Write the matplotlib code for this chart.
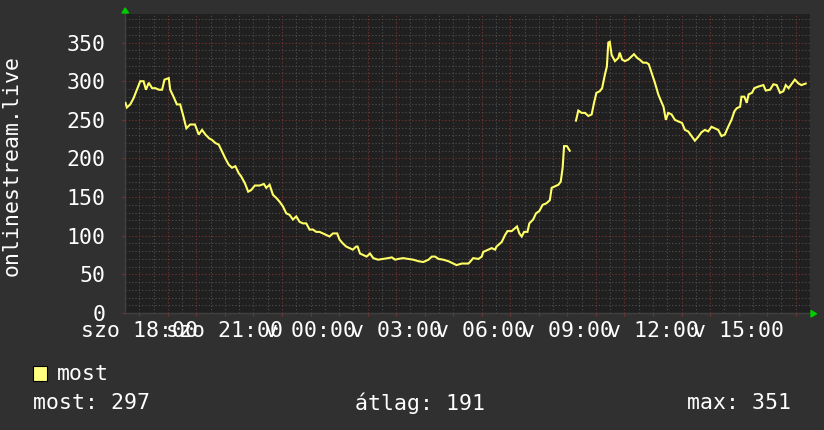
import numpy as np
import matplotlib
matplotlib.use("Agg")
import matplotlib.pyplot as plt
from matplotlib.patches import Polygon, Rectangle
from matplotlib.ticker import MultipleLocator, FixedLocator

# --- data: minutes since szo 17:30, value of "most" ---
minutes = [1, 4, 11, 18, 25, 32, 39, 44, 50, 57, 64, 71, 78, 83, 92, 95, 102, 109, 116,
           123, 129, 137, 147, 155, 162, 169, 177, 183, 190, 197, 204, 211, 218, 225,
           232, 239, 244, 252, 259, 265, 273, 283, 292, 297, 304, 311, 318, 325, 332,
           339, 346, 353, 360, 367, 374, 381, 388, 395, 402, 409, 416, 423, 430, 437,
           446, 451, 458, 465, 472, 479, 486, 489, 494, 501, 508, 515, 522, 532, 543,
           553, 561, 568, 574, 585, 596, 606, 617, 627, 638, 645, 652, 659, 669, 680,
           690, 697, 708, 722, 725, 732, 743, 750, 753, 764, 771, 778, 781, 792, 799,
           804, 813, 824, 829, 834, 839, 846, 850, 858, 864, 871, 878, 886, 893, 897,
           904, 911, 916, 920, 923, 929, 935, 938, 948, 953, 960, 967, 974, 981, 986,
           991, 998, 1003, 1009, 1013, 1016, 1019, 1023, 1030, 1037, 1040, 1045, 1051,
           1058, 1065, 1070, 1077, 1082, 1089, 1096, 1101, 1107, 1114, 1121, 1127, 1132,
           1137, 1142, 1149, 1156, 1163, 1171, 1177, 1184, 1191, 1198, 1205, 1212, 1219,
           1226, 1233, 1240, 1247, 1254, 1261, 1268, 1275, 1281, 1286, 1293, 1296, 1302,
           1307, 1311, 1318, 1323, 1331, 1342, 1347, 1356, 1363, 1370, 1377, 1384, 1389,
           1395, 1401, 1408, 1416, 1422, 1431]
values = [272, 266, 270, 278, 289, 300, 300, 289, 298, 291, 291, 289, 289, 302, 304, 289,
          280, 270, 270, 254, 239, 244, 244, 231, 237, 231, 226, 224, 220, 218, 209, 200,
          192, 188, 190, 181, 177, 168, 157, 159, 165, 165, 167, 162, 166, 153, 149, 144,
          138, 129, 127, 121, 125, 118, 116, 116, 108, 108, 105, 105, 103, 101, 99, 103,
          103, 95, 90, 86, 84, 82, 86, 86, 77, 75, 73, 77, 71, 69, 70, 71, 72, 69, 70, 71,
          70, 69, 67, 66, 69, 73, 73, 70, 69, 67, 64, 62, 64, 64, 66, 71, 70, 73, 79, 82,
          84, 82, 86, 92, 101, 106, 106, 112, 103, 99, 105, 105, 116, 121, 129, 132, 140,
          142, 146, 162, 164, 166, 170, 188, 216, 216, 210, np.nan, 249, 262, 259, 259,
          255, 257, 272, 285, 287, 291, 309, 319, 350, 351, 334, 326, 330, 337, 328, 326,
          328, 332, 335, 330, 328, 324, 324, 322, 311, 298, 283, 274, 267, 250, 259, 257,
          250, 248, 246, 237, 235, 229, 223, 228, 234, 237, 235, 241, 239, 237, 229, 231,
          241, 250, 261, 265, 267, 280, 280, 272, 283, 285, 291, 293, 295, 288, 289, 296,
          295, 285, 287, 295, 291, 296, 302, 297, 295, 297]

tick_hours = [0.5, 3.5, 6.5, 9.5, 12.5, 15.5, 18.5, 21.5]
tick_labels = ["szo 18:00", "szo 21:00", "v 00:00", "v 03:00", "v 06:00",
               "v 09:00", "v 12:00", "v 15:00"]
ylabel = "onlinestream.live"
legend_name = "most"
stat_now, stat_avg, stat_max = 297, 191, 351

W, H = 824, 430
BG = "#303030"
PLOT_BG = "#202020"
LINE = "#ffff66"
MAJOR = "#7a3434"
MINOR = "#505050"
FONT = "DejaVu Sans Mono"
FS = 15.5

fig = plt.figure(figsize=(W / 100, H / 100), dpi=100, facecolor=BG)
ax = fig.add_axes([125 / W, 117 / H, 685 / W, 299 / H])
ax.set_facecolor(PLOT_BG)

x = np.array(minutes) / 60.0
y = np.array(values, dtype=float)
ax.plot(x, y, color=LINE, lw=1.5, solid_joinstyle="miter", zorder=3)

ax.set_xlim(0, 24)
ax.set_ylim(0, 387)

ax.set_yticks(np.arange(0, 351, 50))
ax.set_yticklabels([str(v) for v in range(0, 351, 50)])
ax.yaxis.set_minor_locator(MultipleLocator(10))
ax.xaxis.set_major_locator(FixedLocator(np.arange(0.5, 24, 1.0)))
ax.xaxis.set_minor_locator(FixedLocator(np.arange(0.0, 24.01, 0.5)))

ax.grid(which="minor", color=MINOR, ls=(0, (1, 2)), lw=0.8, zorder=1)
ax.grid(which="major", color=MAJOR, ls=(0, (1, 2)), lw=0.8, zorder=2)

ax.set_xticklabels([])
for h, lab in zip(tick_hours, tick_labels):
    ax.text(h, -0.027, lab, transform=ax.get_xaxis_transform(), ha="center", va="top",
            color="white", fontsize=FS, family=FONT, clip_on=False)

ax.tick_params(axis="y", which="major", length=2, color=MAJOR, labelcolor="white",
               labelsize=FS, pad=12)
ax.tick_params(axis="x", which="major", length=2, color=MAJOR)
ax.tick_params(which="minor", length=0)
for lab in ax.get_yticklabels():
    lab.set_family(FONT)

for s in ["top", "right"]:
    ax.spines[s].set_visible(False)
for s in ["left", "bottom"]:
    ax.spines[s].set_color("#404040")
    ax.spines[s].set_linewidth(1.0)

fig.text(12 / W, 1 - 165 / H, ylabel, rotation=90, ha="center", va="center",
         color="white", fontsize=FS, family=FONT)

# arrows
fig.add_artist(Polygon([[122 / W, 1 - 13 / H], [128.5 / W, 1 - 13 / H], [125.2 / W, 1 - 8 / H]],
                       closed=True, transform=fig.transFigure, color="#00cc00"))
fig.add_artist(Polygon([[811 / W, 1 - 310.5 / H], [811 / W, 1 - 317 / H], [816.5 / W, 1 - 313.8 / H]],
                       closed=True, transform=fig.transFigure, color="#00cc00"))

# legend
fig.add_artist(Rectangle((33 / W, 1 - 381 / H), 14 / W, 15 / H, transform=fig.transFigure,
                         facecolor="#ffff80", edgecolor="black", lw=0.8))
fig.text(57 / W, 1 - 374 / H, legend_name, ha="left", va="center", color="white",
         fontsize=FS, family=FONT)
fig.text(33 / W, 1 - 403 / H, f"most: {stat_now}", ha="left", va="center", color="white",
         fontsize=FS, family=FONT)
fig.text(355 / W, 1 - 403 / H, f"átlag: {stat_avg}", ha="left", va="center", color="white",
         fontsize=FS, family=FONT)
fig.text(791 / W, 1 - 403 / H, f"max: {stat_max}", ha="right", va="center", color="white",
         fontsize=FS, family=FONT)

fig.savefig("out.png", dpi=100, facecolor=BG)
